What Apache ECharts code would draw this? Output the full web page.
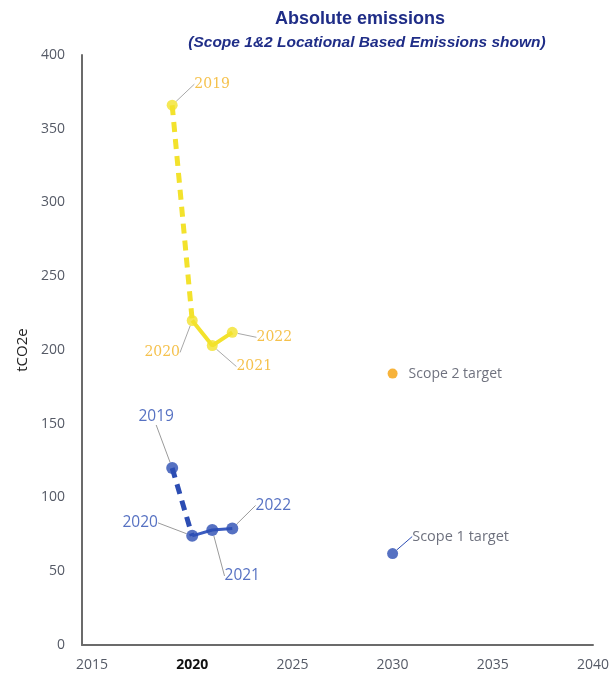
<!DOCTYPE html>
<html><head><meta charset="utf-8">
<script src="https://cdn.jsdelivr.net/npm/echarts@6/dist/echarts.min.js"></script>
<style>html,body{margin:0;padding:0;background:#fff}#c{width:616px;height:678px}</style>
</head><body><div id="c"></div>
<script>
const years = [2019, 2020, 2021, 2022];
const scope1 = [120, 74, 78, 79];
const scope2 = [366, 220, 203, 212];
const targetYear = 2030;
const scope1Target = 62;
const scope2Target = 184;
const xTicks = [2015, 2020, 2025, 2030, 2035, 2040];
const yTicks = [0, 50, 100, 150, 200, 250, 300, 350, 400];

const pts = (vals) => years.map((y, i) => [y, vals[i]]);
const s2 = pts(scope2), s1 = pts(scope1);

// label offsets (pixels) relative to the point
const off2 = [[40, -21], [-30, 32], [42, 21], [42, 5]];
const off1 = [[-16, -51], [-52, -13], [30, 46], [41, -23]];

const chart = echarts.init(document.getElementById('c'));
chart.setOption({
  animation: false,
  title: [{
    text: 'Absolute emissions', left: 355, top: 5, textAlign: 'center',
    textStyle: {fontFamily: 'Liberation Sans', fontSize: 18, fontWeight: 'bold', color: '#1f2d87'}
  }, {
    text: '(Scope 1&2 Locational Based Emissions shown)', left: 362, top: 30, textAlign: 'center',
    textStyle: {fontFamily: 'Liberation Sans', fontSize: 15.5, fontWeight: 'bold', fontStyle: 'italic', color: '#1f2d87'}
  }],
  grid: {left: 82, right: 23, top: 55, bottom: 33},
  xAxis: {
    type: 'value', min: 2014.5, max: 2040,
    axisLine: {lineStyle: {color: '#6b6b6b', width: 2}},
    axisTick: {show: false}, splitLine: {show: false},
    axisLabel: {
      customValues: xTicks, showMinLabel: true, showMaxLabel: true,
      margin: 13, fontFamily: 'Open Sans', fontSize: 14, color: '#555a66',
      formatter: v => v === 2020 ? '{b|' + v + '}' : String(v),
      rich: {b: {fontFamily: 'Open Sans', fontSize: 14, fontWeight: 'bold', color: '#111'}}
    }
  },
  yAxis: {
    type: 'value', min: 0, max: 400, interval: 50,
    name: 'tCO2e', nameLocation: 'middle', nameGap: 52, nameRotate: 90,
    nameTextStyle: {fontFamily: 'Open Sans', fontSize: 15, color: '#222'},
    axisLine: {show: true, lineStyle: {color: '#6b6b6b', width: 2}},
    axisTick: {show: false}, splitLine: {show: false},
    axisLabel: {margin: 17, fontFamily: 'Open Sans', fontSize: 14, color: '#555a66'}
  },
  series: [
    {type: 'line', data: s2.slice(0, 2), symbol: 'none', lineStyle: {color: '#f3e22c', width: 5, type: [10, 7]}, z: 2},
    {type: 'line', data: s2.slice(1), symbol: 'none', lineStyle: {color: '#f3e22c', width: 4}, z: 2},
    {type: 'line', data: s1.slice(0, 2), symbol: 'none', lineStyle: {color: '#2c4db3', width: 5, type: [10, 7]}, z: 2},
    {type: 'line', data: s1.slice(1), symbol: 'none', lineStyle: {color: '#3b5cc0', width: 3}, z: 2},
    {
      type: 'scatter', data: s2, symbolSize: 11, itemStyle: {color: '#f3e22c'}, z: 3,
      label: {show: true, position: 'inside', formatter: p => String(years[p.dataIndex]),
        fontFamily: 'DejaVu Serif', fontSize: 14, color: '#f2b21f'},
      labelLine: {show: true, lineStyle: {color: '#a8a8a8', width: 1}},
      labelLayout: p => ({dx: off2[p.dataIndex][0], dy: off2[p.dataIndex][1]})
    },
    {
      type: 'scatter', data: s1, symbolSize: 12, itemStyle: {color: '#2c4db3'}, z: 3,
      label: {show: true, position: 'inside', formatter: p => String(years[p.dataIndex]),
        fontFamily: 'Open Sans', fontSize: 15.5, color: '#2c4db3'},
      labelLine: {show: true, lineStyle: {color: '#9a9a9a', width: 1}},
      labelLayout: p => ({dx: off1[p.dataIndex][0], dy: off1[p.dataIndex][1]})
    },
    {
      type: 'scatter', data: [[targetYear, scope2Target]], symbolSize: 10, itemStyle: {color: '#f5a00a'}, z: 3,
      label: {show: true, position: 'right', distance: 11, formatter: 'Scope 2 target',
        fontFamily: 'Open Sans', fontSize: 14, color: '#4a4d5e'}
    },
    {
      type: 'scatter', data: [[targetYear, scope1Target]], symbolSize: 11, itemStyle: {color: '#2c4db3'}, z: 3,
      label: {show: true, position: 'inside', formatter: 'Scope 1 target',
        fontFamily: 'Open Sans', fontSize: 14.5, color: '#4a4d5e'},
      labelLine: {show: true, lineStyle: {color: '#2c4db3', width: 1}},
      labelLayout: {dx: 68, dy: -17}
    }
  ]
});
</script></body></html>
